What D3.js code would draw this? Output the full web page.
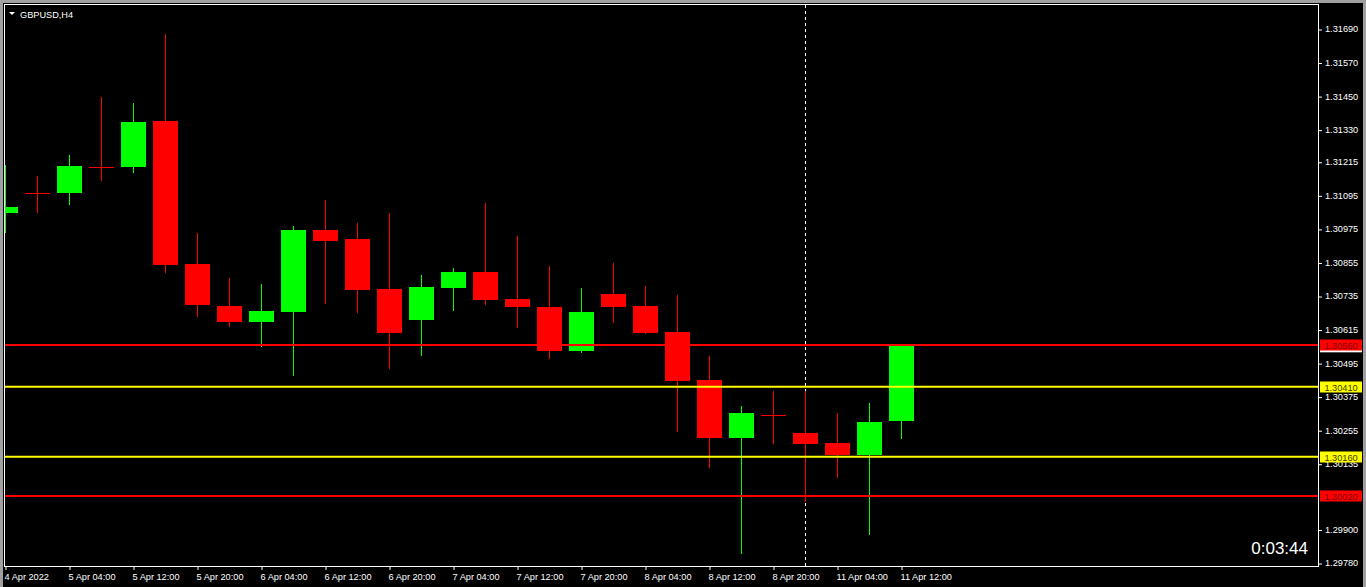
<!DOCTYPE html>
<html>
<head>
<meta charset="utf-8">
<script src="https://cdn.jsdelivr.net/npm/d3@7/dist/d3.min.js"></script>
<style>
html,body{margin:0;padding:0;background:#000;overflow:hidden;}
svg{display:block;}
text{font-family:"Liberation Sans",Arial,sans-serif;}
</style>
</head>
<body>
<svg id="chart" width="1366" height="587"></svg>
<script>
const symbolTitle = "GBPUSD,H4";
const timerText = "0:03:44";
const opens  = [1.31032,1.31105,1.31104,1.31198,1.31197,1.31360,1.30849,1.30698,1.30642,1.30678,1.30970,1.30938,1.30759,1.30649,1.30764,1.30820,1.30723,1.30695,1.30539,1.30741,1.30698,1.30605,1.30434,1.30227,1.30311,1.30244,1.30208,1.30167,1.30288];
const highs  = [1.31203,1.31163,1.31238,1.31446,1.31424,1.31671,1.30959,1.30799,1.30777,1.30985,1.31078,1.30995,1.31031,1.30809,1.30834,1.31067,1.30949,1.30841,1.30763,1.30852,1.30770,1.30738,1.30520,1.30341,1.30394,1.30394,1.30316,1.30351,1.30555];
const lows   = [1.30964,1.31036,1.31063,1.31150,1.31179,1.30821,1.30664,1.30628,1.30555,1.30453,1.30710,1.30678,1.30478,1.30524,1.30685,1.30707,1.30624,1.30514,1.30535,1.30642,1.30602,1.30252,1.30124,1.29816,1.30209,1.30002,1.30088,1.29884,1.30227];
const closes = [1.31052,1.31105,1.31199,1.31198,1.31356,1.30846,1.30703,1.30642,1.30681,1.30970,1.30931,1.30757,1.30603,1.30766,1.30820,1.30721,1.30696,1.30539,1.30677,1.30696,1.30603,1.30431,1.30227,1.30316,1.30311,1.30206,1.30167,1.30284,1.30555];
const timeTickBars   = [0,2,4,6,8,10,12,14,16,18,20,22,24,26,28];
const timeTickLabels = ["4 Apr 2022","5 Apr 04:00","5 Apr 12:00","5 Apr 20:00","6 Apr 04:00","6 Apr 12:00","6 Apr 20:00","7 Apr 04:00","7 Apr 12:00","7 Apr 20:00","8 Apr 04:00","8 Apr 12:00","8 Apr 20:00","11 Apr 04:00","11 Apr 12:00"];
const priceTicks = [1.31690,1.31570,1.31450,1.31330,1.31215,1.31095,1.30975,1.30855,1.30735,1.30615,1.30495,1.30375,1.30255,1.30135,1.29900,1.29780];
const levelValues = [1.30560,1.30410,1.30160,1.30020];
const levelColors = ["#ff0000","#ffff00","#ffff00","#ff0000"];
const levelTextColors = ["#800000","#404000","#404000","#800000"];
const separatorBar = 25;
const bidPrice = closes[closes.length-1];

const W = 1366, H = 587;
const plot = {left:5, top:5, right:1318, bottom:566};
const svg = d3.select("#chart");

// window edges
svg.append("rect").attr("x",0).attr("y",0).attr("width",W).attr("height",H).attr("fill","#000");
svg.append("rect").attr("x",0).attr("y",0).attr("width",3).attr("height",H).attr("fill","#a0a0a0");
svg.append("rect").attr("x",0).attr("y",0).attr("width",W).attr("height",3).attr("fill","#a0a0a0");
svg.append("rect").attr("x",W-3).attr("y",0).attr("width",3).attr("height",H).attr("fill","#a0a0a0");

const x = d3.scaleLinear().domain([0,28]).range([5,901]);
const y = d3.scaleLinear().domain([1.29780,1.31690]).range([563,29]);

svg.append("defs").append("clipPath").attr("id","clip")
  .append("rect").attr("x",plot.left).attr("y",plot.top)
  .attr("width",plot.right-plot.left).attr("height",plot.bottom-plot.top);

const g = svg.append("g").attr("clip-path","url(#clip)");

// period separator
g.append("line")
  .attr("x1",x(separatorBar)+0.5).attr("x2",x(separatorBar)+0.5)
  .attr("y1",plot.top).attr("y2",plot.bottom)
  .attr("stroke","#fff").attr("stroke-width",1).attr("stroke-dasharray","3,3");

const bars = d3.range(opens.length).map(i=>({i,o:opens[i],h:highs[i],l:lows[i],c:closes[i]}));
const col = d => d.c > d.o ? "#00ff00" : "#ff0000";

const cg = g.selectAll("g.c").data(bars).join("g").attr("class","c");
cg.append("line")
  .attr("x1",d=>Math.round(x(d.i))+0.5).attr("x2",d=>Math.round(x(d.i))+0.5)
  .attr("y1",d=>Math.round(y(d.h))).attr("y2",d=>Math.round(y(d.l))+1)
  .attr("stroke",col).attr("stroke-width",1);
cg.append("rect")
  .attr("x",d=>Math.round(x(d.i))-12)
  .attr("y",d=>Math.round(y(Math.max(d.o,d.c))))
  .attr("width",25)
  .attr("height",d=>Math.max(1,Math.round(y(Math.min(d.o,d.c)))-Math.round(y(Math.max(d.o,d.c)))))
  .attr("fill",col);

// horizontal levels
g.selectAll("line.lvl").data(levelValues).join("line").attr("class","lvl")
  .attr("x1",plot.left).attr("x2",plot.right)
  .attr("y1",d=>y(d)).attr("y2",d=>y(d))
  .attr("stroke",(d,i)=>levelColors[i]).attr("stroke-width",2);

// frame
svg.append("rect").attr("x",4.5).attr("y",4.5)
  .attr("width",plot.right-4).attr("height",plot.bottom-4)
  .attr("fill","none").attr("stroke","#fff").attr("stroke-width",1);

// y axis
const yAxis = d3.axisRight(y).tickValues(priceTicks).tickFormat(d3.format(".5f")).tickSize(3).tickPadding(3);
const ya = svg.append("g").attr("transform",`translate(${plot.right+1},0)`).call(yAxis);
ya.select(".domain").remove();
ya.selectAll("line").attr("stroke","#fff").attr("transform","translate(0,0.5)");
ya.selectAll("text").attr("fill","#fff").attr("font-size","9.2px").attr("font-family",'"Liberation Sans",Arial,sans-serif');

// x axis
const xAxis = d3.axisBottom(x).tickValues(timeTickBars).tickFormat((d,i)=>timeTickLabels[i]).tickSize(4).tickPadding(3);
const xa = svg.append("g").attr("transform",`translate(0.5,${plot.bottom})`).call(xAxis);
xa.select(".domain").remove();
xa.selectAll("line").attr("stroke","#fff");
xa.selectAll("text").attr("fill","#fff").attr("font-size","9.2px").attr("text-anchor","start").attr("dx","-1.5")
  .attr("font-family",'"Liberation Sans",Arial,sans-serif');

// bid label (mostly hidden)
svg.append("rect").attr("x",plot.right+2).attr("y",y(bidPrice)-5).attr("width",42).attr("height",11).attr("fill","#fff");

// level labels
const lg = svg.selectAll("g.lbl").data(levelValues).join("g").attr("class","lbl");
lg.append("rect").attr("x",plot.right+2).attr("y",d=>Math.round(y(d))-5.5).attr("width",42).attr("height",11)
  .attr("fill",(d,i)=>levelColors[i]);
lg.append("text").attr("x",plot.right+23).attr("y",d=>Math.round(y(d))+3.5)
  .attr("text-anchor","middle").attr("font-size","9.2px").attr("fill",(d,i)=>levelTextColors[i])
  .text(d=>d3.format(".5f")(d));

// title
svg.append("path").attr("d","M9,12 L15,12 L12,15 Z").attr("fill","#fff");
svg.append("text").attr("x",20).attr("y",17.5).attr("font-size","9.2px").attr("fill","#fff").text(symbolTitle);

// timer
svg.append("text").attr("x",1308).attr("y",553.5).attr("text-anchor","end").attr("font-size","17px").attr("fill","#fff").text(timerText);
</script>
</body>
</html>
